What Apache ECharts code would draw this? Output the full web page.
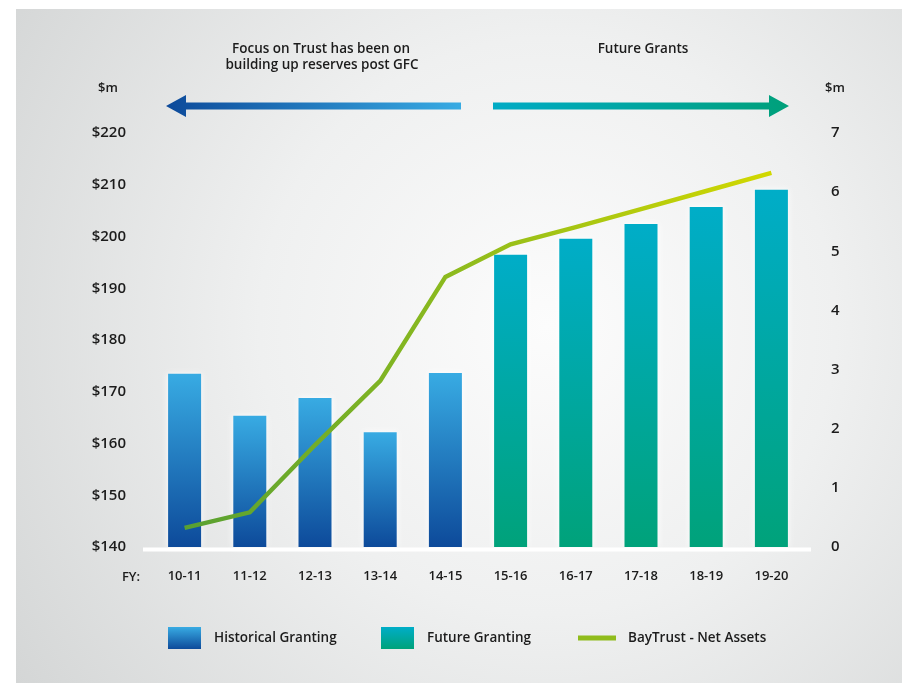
<!DOCTYPE html>
<html>
<head>
<meta charset="utf-8">
<script src="https://cdn.jsdelivr.net/npm/echarts@6/dist/echarts.min.js"></script>
<style>
html,body{margin:0;padding:0;background:#fff;}
#chart{width:902px;height:683px;}
</style>
</head>
<body>
<div id="chart"></div>
<script>
const categories = ['10-11','11-12','12-13','13-14','14-15','15-16','16-17','17-18','18-19','19-20'];
const historicalGranting = [2.93, 2.22, 2.52, 1.94, 2.94, null, null, null, null, null];
const futureGranting = [null, null, null, null, null, 4.94, 5.21, 5.46, 5.75, 6.04];
const netAssets = [143.7, 146.7, 159.7, 172.1, 192.2, 198.5, 201.8, 205.3, 208.8, 212.3];
const leftTicks = {min: 140, max: 220, interval: 10};
const rightTicks = {min: 0, max: 7, interval: 1};

const FONT = '"Open Sans", "Noto Sans", sans-serif';
const G = echarts.graphic;
const chart = echarts.init(document.getElementById('chart'), null, {renderer: 'canvas'});

const histColor = new G.LinearGradient(0, 0, 0, 1, [
  {offset: 0, color: '#38abe3'}, {offset: 1, color: '#0d4a9a'}]);
const futColor = new G.LinearGradient(0, 0, 0, 1, [
  {offset: 0, color: '#00adc8'}, {offset: 1, color: '#00a27a'}]);
const lineColor = new G.LinearGradient(0, 0, 1, 0, [
  {offset: 0, color: '#58a032'}, {offset: 0.45, color: '#8cba1e'}, {offset: 1, color: '#d2d800'}]);

const textStyle = (t, x, y, size) => ({
  type: 'text', x: x, y: y, z: 10,
  style: {text: t, fill: '#1c1c1c', font: '600 ' + (size || 13.5) + 'px ' + FONT, textAlign: 'center', textVerticalAlign: 'middle'}
});
const legendText = (pad) => ({fontSize: 13.5, fontWeight: 600, color: '#1c1c1c', fontFamily: FONT, padding: [0, 0, 0, pad]});

const option = {
  animation: false,
  textStyle: {fontFamily: FONT},
  grid: {left: 152, right: 98, top: 133, bottom: 136, containLabel: false},
  legend: [
    {left: 163, top: 622, itemWidth: 33, itemHeight: 22, itemGap: 0, icon: 'rect',
     data: ['Historical Granting'], textStyle: legendText(8)},
    {left: 376, top: 622, itemWidth: 33, itemHeight: 22, itemGap: 0, icon: 'rect',
     data: ['Future Granting'], textStyle: legendText(8)},
    {left: 573, top: 626, itemWidth: 38, itemHeight: 5, itemGap: 0, icon: 'rect',
     data: [{name: 'BayTrust - Net Assets', itemStyle: {color: '#90bc1c'}}],
     textStyle: legendText(7)}
  ],
  xAxis: {
    type: 'category', data: categories, boundaryGap: true,
    axisLine: {show: false}, axisTick: {show: false},
    axisLabel: {margin: 23, fontSize: 13, fontWeight: 600, color: '#1c1c1c', fontFamily: FONT}
  },
  yAxis: [
    {type: 'value', position: 'left', min: leftTicks.min, max: leftTicks.max, interval: leftTicks.interval,
     splitLine: {show: false}, axisLine: {show: false}, axisTick: {show: false},
     axisLabel: {margin: 26, fontSize: 15, fontWeight: 600, color: '#1c1c1c', fontFamily: FONT, formatter: v => '$' + v}},
    {type: 'value', position: 'right', min: rightTicks.min, max: rightTicks.max, interval: rightTicks.interval,
     splitLine: {show: false}, axisLine: {show: false}, axisTick: {show: false},
     axisLabel: {margin: 27, fontSize: 15, fontWeight: 600, color: '#1c1c1c', fontFamily: FONT}}
  ],
  series: [
    {name: 'Historical Granting', type: 'bar', yAxisIndex: 1, data: historicalGranting, barWidth: 33, barGap: '-100%',
     itemStyle: {color: histColor, shadowColor: 'rgba(255,255,255,1)', shadowBlur: 6}, z: 2},
    {name: 'Future Granting', type: 'bar', yAxisIndex: 1, data: futureGranting, barWidth: 33, barGap: '-100%',
     itemStyle: {color: futColor, shadowColor: 'rgba(255,255,255,1)', shadowBlur: 6}, z: 2},
    {name: 'BayTrust - Net Assets', type: 'line', yAxisIndex: 0, data: netAssets, showSymbol: false, symbol: 'none',
     itemStyle: {color: '#90bc1c'}, lineStyle: {color: lineColor, width: 4.5, join: 'miter'}, z: 5}
  ],
  graphic: [
    {type: 'rect', z: -10, shape: {x: 16, y: 9, width: 886, height: 674}, silent: true,
     style: {fill: new G.RadialGradient(0.6, 0.47, 0.95, [
       {offset: 0, color: '#fcfcfc'}, {offset: 0.45, color: '#eff0f0'}, {offset: 1, color: '#d4d6d6'}])}},
    {type: 'rect', z: 3, shape: {x: 143, y: 547.5, width: 668, height: 4}, silent: true, style: {fill: '#ffffff'}},
    textStyle('Focus on Trust has been on', 321, 49),
    textStyle('building up reserves post GFC', 322, 65),
    textStyle('Future Grants', 643, 49),
    textStyle('$m', 108, 88, 13),
    textStyle('$m', 835, 88, 13),
    textStyle('FY:', 131, 577, 13),
    {type: 'polygon', z: 4, silent: true,
     shape: {points: [[166, 106], [186, 95], [186, 102.5], [461, 102.5], [461, 109.5], [186, 109.5], [186, 117]]},
     style: {fill: new G.LinearGradient(0, 0, 1, 0, [{offset: 0, color: '#0d4a9a'}, {offset: 1, color: '#38abe3'}])}},
    {type: 'polygon', z: 4, silent: true,
     shape: {points: [[789, 106], [769, 95], [769, 102.5], [493, 102.5], [493, 109.5], [769, 109.5], [769, 117]]},
     style: {fill: new G.LinearGradient(0, 0, 1, 0, [{offset: 0, color: '#00abc5'}, {offset: 1, color: '#00a07a'}])}}
  ]
};
chart.setOption(option);
</script>
</body>
</html>
